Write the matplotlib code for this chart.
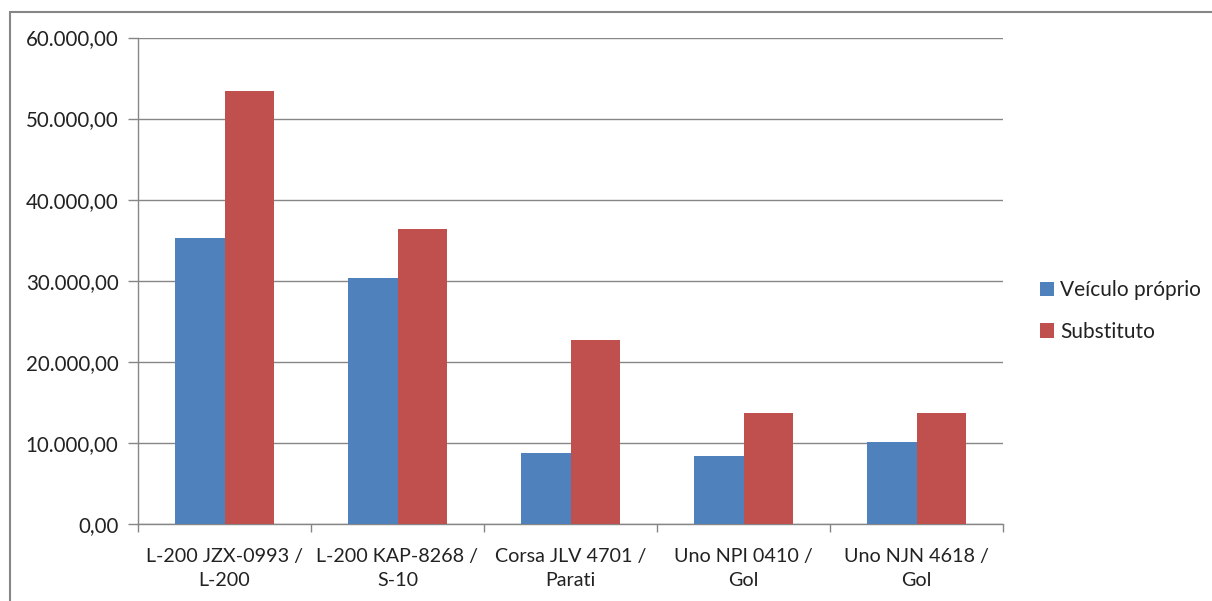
import matplotlib
matplotlib.use("Agg")
import matplotlib.pyplot as plt
from matplotlib.patches import Rectangle
from matplotlib.ticker import FuncFormatter
import numpy as np

categories = ["L-200 JZX-0993 /\nL-200", "L-200 KAP-8268 /\nS-10", "Corsa JLV 4701 /\nParati",
              "Uno NPI 0410 /\nGol", "Uno NJN 4618 /\nGol"]
series_names = ["Veículo próprio", "Substituto"]
proprio = [35300, 30300, 8800, 8400, 10150]
substituto = [53400, 36400, 22700, 13650, 13650]
yticks = [0, 10000, 20000, 30000, 40000, 50000, 60000]

plt.rcParams['font.family'] = ['Lato', 'DejaVu Sans']
W, H = 1212, 601
fig = plt.figure(figsize=(W/100, H/100), dpi=100)
ax = fig.add_axes([138/W, 1-524/H, (1003-138)/W, (524-37.5)/H])

gray = "#868686"
blue = "#4F81BD"
red = "#C0504D"
txt = "#222222"
x = np.arange(len(categories))
w = 49.4/173
ax.bar(x - w/2, proprio, w, color=blue, label=series_names[0], zorder=3)
ax.bar(x + w/2, substituto, w, color=red, label=series_names[1], zorder=3)

ax.set_xlim(-0.5, len(categories)-0.5)
ax.set_ylim(0, 60000)
ax.set_yticks(yticks)
ax.yaxis.set_major_formatter(FuncFormatter(lambda v, p: f"{v:,.2f}".replace(",", "X").replace(".", ",").replace("X", ".")))
ax.grid(axis='y', color=gray, linewidth=1, zorder=0)
ax.set_axisbelow(True)
for s in ['top', 'right']:
    ax.spines[s].set_visible(False)
for s in ['left', 'bottom']:
    ax.spines[s].set_color(gray)
    ax.spines[s].set_linewidth(1)
ax.tick_params(axis='y', length=7, color=gray, width=1, labelsize=14.8, labelcolor=txt, pad=7)
ax.set_xticks(np.arange(-0.5, len(categories), 1))
ax.set_xticklabels([])
ax.tick_params(axis='x', which='major', length=6, color=gray, width=1)
ax.set_xticks(x, minor=True)
ax.set_xticklabels(categories, minor=True, fontsize=14.2, color=txt, linespacing=1.55)
ax.tick_params(axis='x', which='minor', length=0, pad=17)

leg = fig.legend(loc='upper left', bbox_to_anchor=(1040/W, 1-280/H), frameon=False,
                 fontsize=15, handlelength=0.68, handleheight=0.68, handletextpad=0.3,
                 labelspacing=1.05, borderaxespad=0, borderpad=0)
for t in leg.get_texts():
    t.set_color(txt)

fig.patches.append(Rectangle((9.5/W, -0.1), 1.2, 1-11.5/H+0.1, transform=fig.transFigure,
                             fill=False, edgecolor=gray, linewidth=1.5))
fig.savefig("out.png", dpi=100)
